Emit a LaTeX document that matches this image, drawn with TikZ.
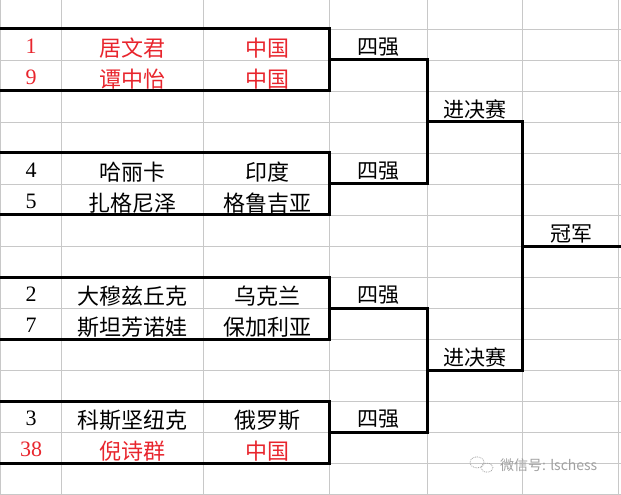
\documentclass[tikz,border=0pt]{standalone}
\usepackage{fontspec}
\setmainfont{Liberation Serif}
\newfontfamily\cjk{Noto Sans CJK SC}
\usepackage{tikz}
\usetikzlibrary{positioning}
\definecolor{cnred}{HTML}{E8252D}
\definecolor{gridgray}{HTML}{C8C8C8}
\definecolor{markgray}{HTML}{A0A0A0}

\begin{document}
\begin{tikzpicture}[
    x=1pt, y=-31pt,
    gridline/.style={draw=gridgray, line width=0.9pt},
    boxline/.style={draw=black, line width=3pt},
    seed/.style={inner sep=0pt, font=\fontsize{22}{22}\selectfont, yshift=-2pt},
    player/.style={inner sep=0pt, font=\cjk\fontsize{22}{22}\selectfont, yshift=-3.5pt},
    stage/.style={inner sep=0pt, font=\cjk\fontsize{21}{21}\selectfont, yshift=-3pt},
    china/.style={text=cnred}
]
\useasboundingbox (0,-0.9355) rectangle (621,15.032);

% spreadsheet grid
\foreach \k in {0,...,15}
    \draw[gridline] (0,\k) -- (621,\k);
\foreach \c in {0,61,203,329,427,522,618}
    \draw[gridline] (\c,-0.9355) -- (\c,15.032);

% groups
\draw[boxline] (-5,0) rectangle (329,2);
\draw[boxline] (-5,4) rectangle (329,6);
\draw[boxline] (-5,8) rectangle (329,10);
\draw[boxline] (-5,12) rectangle (329,14);

\node[seed, china] (n1) at (31,0.5) {1};
\node[player, china] (p1) at (132,0.5) {居文君};
\node[player, china] (c1) at (267,0.5) {中国};
\node[seed, china] (n9) at (31,1.5) {9};
\node[player, china] (p9) at (132,1.5) {谭中怡};
\node[player, china] (c9) at (267,1.5) {中国};

\node[seed] (n4) at (31,4.5) {4};
\node[player] (p4) at (132,4.5) {哈丽卡};
\node[player] (c4) at (267,4.5) {印度};
\node[seed] (n5) at (31,5.5) {5};
\node[player] (p5) at (132,5.5) {扎格尼泽};
\node[player] (c5) at (267,5.5) {格鲁吉亚};

\node[seed] (n2) at (31,8.5) {2};
\node[player] (p2) at (132,8.5) {大穆兹丘克};
\node[player] (c2) at (267,8.5) {乌克兰};
\node[seed] (n7) at (31,9.5) {7};
\node[player] (p7) at (132,9.5) {斯坦芳诺娃};
\node[player] (c7) at (267,9.5) {保加利亚};

\node[seed] (n3) at (31,12.5) {3};
\node[player] (p3) at (132,12.5) {科斯坚纽克};
\node[player] (c3) at (267,12.5) {俄罗斯};
\node[seed, china] (n38) at (31,13.5) {38};
\node[player, china] (p38) at (132,13.5) {倪诗群};
\node[player, china] (c38) at (267,13.5) {中国};

% bracket points
\coordinate (g1) at (329,1);
\coordinate (g2) at (329,5);
\coordinate (g3) at (329,9);
\coordinate (g4) at (329,13);
\coordinate (sf1) at (427,3);
\coordinate (sf2) at (427,11);
\coordinate (fin) at (522,7);
\coordinate (win) at (630,7);

\draw[boxline] (g1) -| (sf1) |- (g2);
\draw[boxline] (g3) -| (sf2) |- (g4);
\draw[boxline] (sf1) -| (fin) |- (sf2);
\draw[boxline] (fin) -- (win);

% stage labels
\node[stage] (q1) at (378,0.5) {四强};
\node[stage] (q2) at (378,4.5) {四强};
\node[stage] (q3) at (378,8.5) {四强};
\node[stage] (q4) at (378,12.5) {四强};
\node[stage] (s1) at (475,2.5) {进决赛};
\node[stage] (s2) at (475,10.5) {进决赛};
\node[stage] (champ) at (571,6.5) {冠军};

% watermark
\draw[markgray, densely dotted, line width=0.8pt] (477,13.98) ellipse [x radius=7pt, y radius=5.5pt];
\draw[markgray, densely dotted, line width=0.8pt] (487,14.15) ellipse [x radius=6pt, y radius=4.5pt];
\node[inner sep=0pt, anchor=west, text=markgray, font=\cjk\fontsize{14}{14}\selectfont] (mark) at (500,14.06) {微信号: lschess};

\end{tikzpicture}
\end{document}
